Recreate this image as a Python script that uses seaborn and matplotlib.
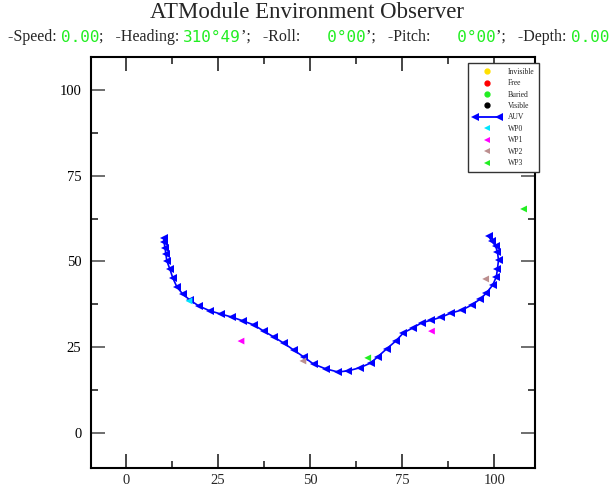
import matplotlib
matplotlib.use("Agg")
import matplotlib.pyplot as plt
import seaborn as sns
import pandas as pd
from matplotlib.lines import Line2D
from matplotlib.legend_handler import HandlerLine2D
from matplotlib.ticker import MultipleLocator

# ---- data ----
auv_x = [10.3, 10.3, 10.6, 10.8, 11.1, 11.9, 12.7, 13.8, 15.4, 17.3, 19.8, 22.8, 25.7,
         28.7, 31.7, 34.7, 37.4, 40.1, 42.8, 45.5, 48.2, 50.9, 54.2, 57.5, 60.2, 63.4,
         66.4, 68.3, 70.7, 73.2, 75.3, 77.8, 80.2, 82.9, 85.6, 88.3, 91.3, 93.8, 96.2,
         97.8, 99.5, 100.5, 100.8, 101.1, 100.8, 100.3, 99.2, 98.4]
auv_y = [56.9, 55.7, 53.9, 52.2, 50.1, 47.8, 45.2, 42.6, 40.5, 38.8, 37.0, 35.6, 34.7,
         33.8, 32.7, 31.5, 29.7, 28.0, 26.2, 24.2, 22.2, 20.1, 18.7, 17.8, 18.1, 19.0,
         20.4, 22.2, 24.5, 26.8, 29.2, 30.6, 32.1, 32.9, 33.8, 35.0, 35.9, 37.3, 39.1,
         40.8, 43.1, 45.5, 47.8, 50.4, 52.8, 54.5, 56.0, 57.4]

wp_names = ["WP0", "WP1", "WP1", "WP2", "WP2", "WP3", "WP3"]
wp_x = [17.1, 31.2, 82.9, 48.0, 97.6, 65.6, 107.9]
wp_y = [38.5, 26.8, 29.7, 21.0, 44.9, 21.9, 65.3]

legend_labels = ["Invisible", "Free", "Buried", "Visible", "AUV", "WP0", "WP1", "WP2", "WP3"]
status_labels = ["-Speed: ", ";   -Heading: ", "’;   -Roll:  ", "’;   -Pitch:  ", "’;   -Depth: "]
status_values = ["0.00", "310°49", "  0°00", "  0°00", "0.00"]

x_ticks = [0, 25, 50, 75, 100]
y_ticks = [0, 25, 50, 75, 100]

# ---- style ----
sns.set_style("ticks")
plt.rcParams['font.family'] = ['Liberation Serif', 'DejaVu Serif']

wp_colors = {"WP0": "#00e5ff", "WP1": "#ff00ff", "WP2": "#bc8f8f", "WP3": "#22ee22"}

fig = plt.figure(figsize=(6.14, 4.91), dpi=100)
ax = fig.add_axes([91/614, 1-468/491, (535-91)/614, (468-57)/491])

auv = pd.DataFrame({"x": auv_x, "y": auv_y})
sns.lineplot(data=auv, x="x", y="y", sort=False, estimator=None, color="#0000ff",
             linewidth=1.2, marker="<", markersize=6, markeredgewidth=0, ax=ax)

wp = pd.DataFrame({"x": wp_x, "y": wp_y, "name": wp_names})
sns.scatterplot(data=wp, x="x", y="y", hue="name", palette=wp_colors, marker="<",
                s=24, linewidth=0, legend=False, ax=ax, zorder=3)

ax.set_xlim(-9.5, 111)
ax.set_ylim(-10.2, 109.6)
ax.set_xticks(x_ticks)
ax.set_yticks(y_ticks)
ax.xaxis.set_minor_locator(MultipleLocator(12.5))
ax.yaxis.set_minor_locator(MultipleLocator(12.5))
ax.set_xlabel("")
ax.set_ylabel("")
ax.tick_params(which="both", direction="in", top=True, right=True, labelsize=10.5)
ax.tick_params(which="major", length=10, width=1.2)
ax.tick_params(which="minor", length=5, width=1.2)
ax.tick_params(axis="x", pad=4)
ax.tick_params(axis="y", pad=7, colors="#555555", labelcolor="black")
for s in ax.spines.values():
    s.set_linewidth(1.5)
    s.set_color("black")

# legend
handles = [
    Line2D([], [], ls="none", marker="o", color="#ffe000", markersize=3.5),
    Line2D([], [], ls="none", marker="o", color="#ff0000", markersize=3.5),
    Line2D([], [], ls="none", marker="o", color="#22ee22", markersize=3.5),
    Line2D([], [], ls="none", marker="o", color="#000000", markersize=3.5),
    Line2D([], [], ls="-", lw=1.3, marker="<", color="#0000ff", markersize=5.5, markeredgewidth=0),
    Line2D([], [], ls="none", marker="<", color=wp_colors["WP0"], markersize=4, markeredgewidth=0),
    Line2D([], [], ls="none", marker="<", color=wp_colors["WP1"], markersize=4, markeredgewidth=0),
    Line2D([], [], ls="none", marker="<", color=wp_colors["WP2"], markersize=4, markeredgewidth=0),
    Line2D([], [], ls="none", marker="<", color=wp_colors["WP3"], markersize=4, markeredgewidth=0),
]
leg = ax.legend(handles, legend_labels, loc="upper right", bbox_to_anchor=(1.009, 0.985),
                borderaxespad=0, fontsize=5.5, labelspacing=0.45, handlelength=3.8,
                handletextpad=0.8, fancybox=False, framealpha=1, edgecolor="#333333",
                borderpad=0.6, numpoints=1,
                handler_map={handles[4]: HandlerLine2D(numpoints=2)})
leg.get_frame().set_linewidth(1.0)

# title
fig.text(0.5, 1-13/491, "ATModule Environment Observer", ha="center", va="center",
         fontsize=16.5, family=["Liberation Serif"])

# status line
fig.canvas.draw()
renderer = fig.canvas.get_renderer()
xpos = 8
ypos = 1 - 37/491
for lab, val in zip(status_labels, status_values):
    t = fig.text(xpos/614, ypos, lab, ha="left", va="center", fontsize=11.5,
                 family=["Liberation Serif"])
    xpos += t.get_window_extent(renderer).width
    t2 = fig.text(xpos/614, ypos, val, ha="left", va="center", fontsize=11.5,
                  family=["DejaVu Sans Mono"], color="#22ee22")
    xpos += t2.get_window_extent(renderer).width

fig.savefig("out.png", dpi=100)
